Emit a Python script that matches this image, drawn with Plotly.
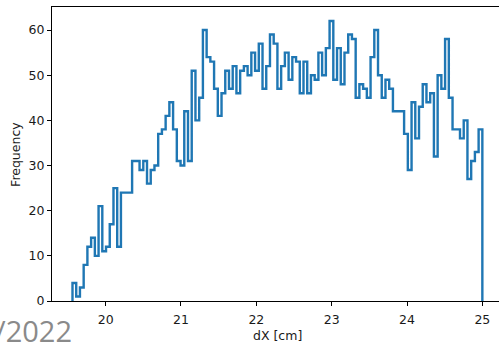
import plotly.graph_objects as go

# Histogram (step) data
bin_start = 19.56
bin_end = 25.0
counts = [4, 1, 3, 8, 12, 14, 10, 21, 11, 12,
          17, 25, 12, 24, 24, 24, 31, 31, 29, 31,
          26, 29, 30, 37, 38, 41, 44, 38, 31, 30,
          42, 31, 51, 40, 45, 60, 54, 53, 47, 41,
          46, 51, 47, 52, 46, 51, 52, 50, 55, 51,
          57, 47, 52, 59, 57, 47, 52, 55, 49, 54,
          53, 46, 53, 46, 50, 49, 55, 50, 56, 62,
          49, 56, 48, 55, 59, 58, 45, 48, 47, 45,
          54, 60, 50, 45, 49, 47, 42, 42, 42, 37,
          29, 44, 36, 43, 48, 44, 46, 32, 50, 47,
          58, 45, 38, 38, 36, 40, 27, 31, 33, 38]
x_ticks = [20, 21, 22, 23, 24, 25]
y_ticks = [0, 10, 20, 30, 40, 50, 60]
x_title = "dX [cm]"
y_title = "Frequency"
watermark = "/2022"

n = len(counts)
width = (bin_end - bin_start) / n
edges = [bin_start + i * width for i in range(n + 1)]

xs = [edges[0]] + edges[:n] + [edges[n]]
ys = [0] + counts + [0]

fig = go.Figure()
fig.add_trace(go.Scatter(
    x=xs, y=ys, mode="lines", line=dict(color="#1f77b4", width=2.4, shape="hv"),
    hoverinfo="skip", showlegend=False,
))

xr = [19.288, 25.221]
yr = [0, 65.1]

font = dict(family="DejaVu Sans", size=12.5, color="#1a1a1a")
fig.update_layout(
    width=499, height=343,
    margin=dict(l=52, r=0, t=7, b=42),
    paper_bgcolor="white", plot_bgcolor="white",
    font=font,
    xaxis=dict(range=xr, tickvals=x_ticks, ticks="outside", ticklen=4, tickwidth=1,
               tickcolor="black", showline=True, linecolor="black", linewidth=1,
               mirror=True, showgrid=False, zeroline=False, tickfont=font,
               ticklabelstandoff=3, automargin=False),
    yaxis=dict(range=yr, tickvals=y_ticks, ticks="outside", ticklen=4, tickwidth=1,
               tickcolor="black", showline=True, linecolor="black", linewidth=1,
               mirror=False, showgrid=False, zeroline=False, tickfont=font,
               automargin=False),
    annotations=[
        dict(text=x_title, x=(19.288 + 25.272) / 2, xref="x", y=-0.119, yref="paper",
             xanchor="center", yanchor="middle", showarrow=False, font=font),
        dict(text=y_title, x=-0.083, xref="paper", y=0.5, yref="paper", textangle=-90,
             xanchor="center", yanchor="middle", showarrow=False, font=font),
        dict(text=watermark, x=-58 / 447, xref="paper", y=-0.1, yref="paper",
             xanchor="left", yanchor="middle", showarrow=False, borderpad=0,
             font=dict(family="Open Sans", size=29, color="#8a8a8a")),
    ],
)

fig.write_html("out.html", config={"displayModeBar": False},
               post_script="document.body.style.margin='0';document.body.style.overflow='hidden';")
